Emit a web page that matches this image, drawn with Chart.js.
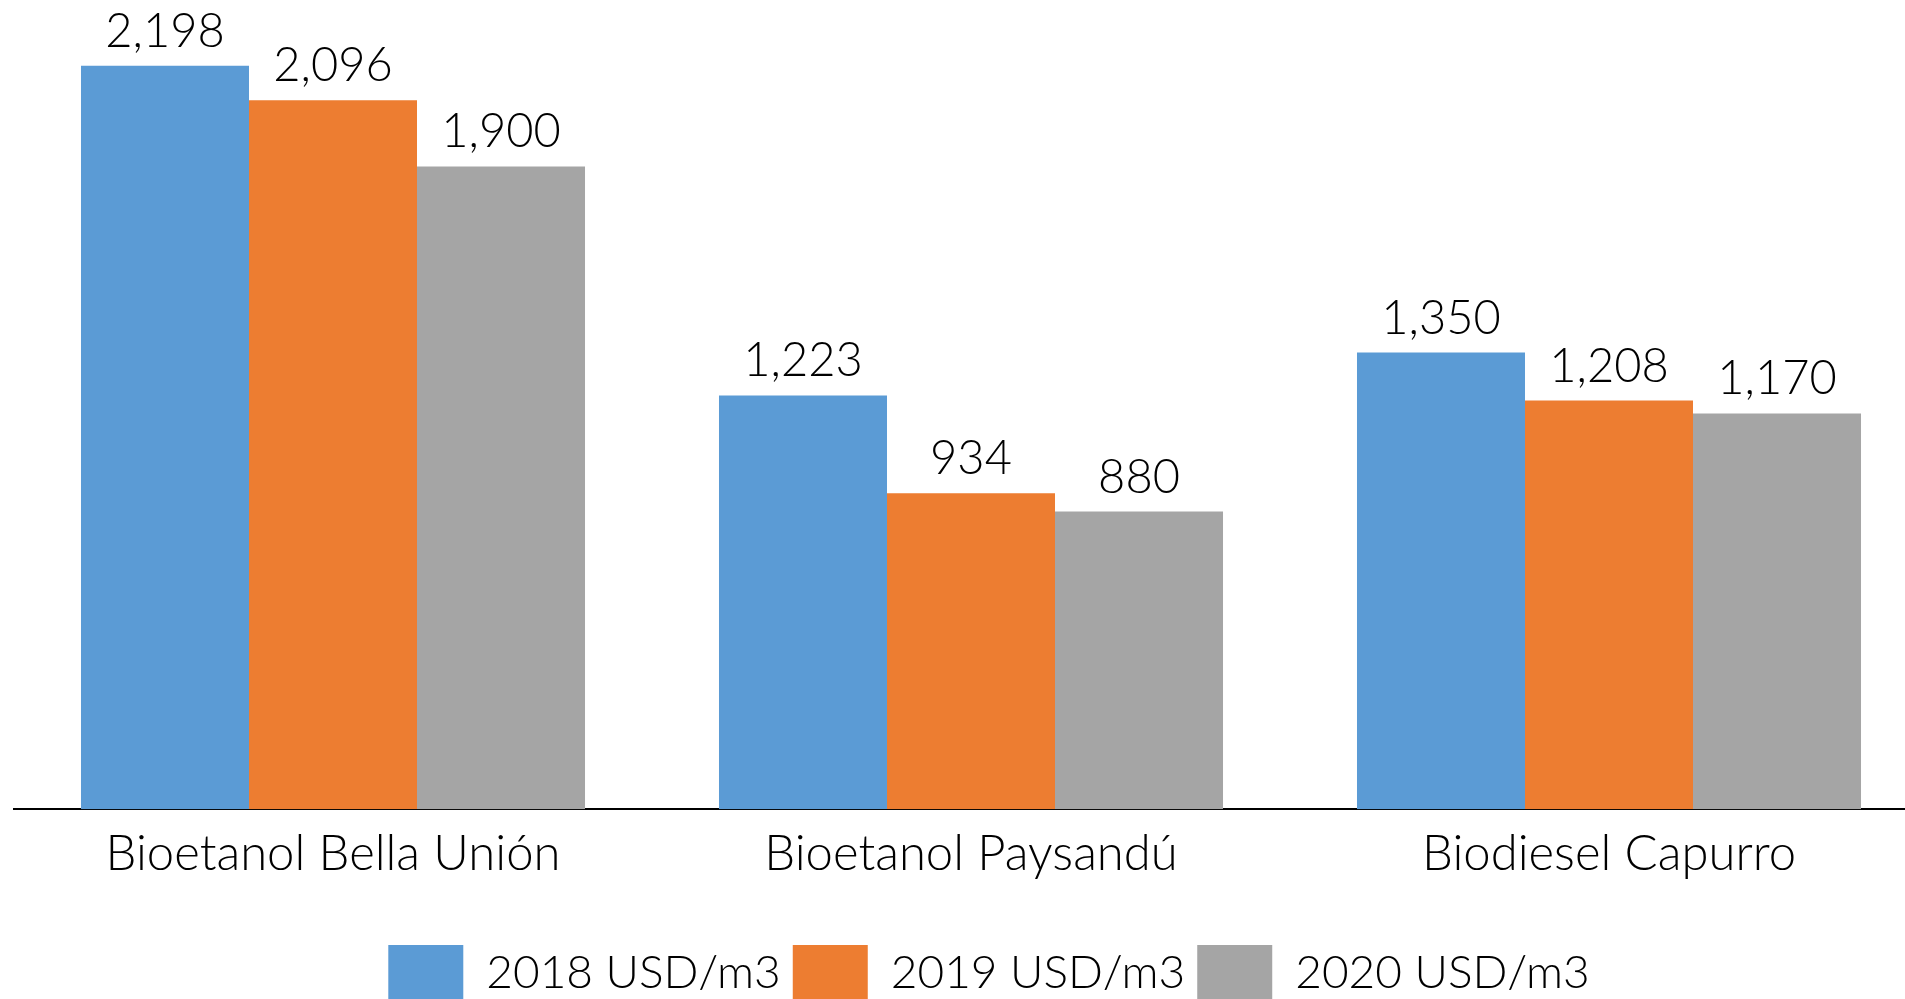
<!DOCTYPE html>
<html>
<head>
<meta charset="utf-8">
<script src="https://cdn.jsdelivr.net/npm/chart.js@4.4.1/dist/chart.umd.min.js"></script>
<style>
  html, body { margin: 0; padding: 0; background: #fff; overflow: hidden; }
  #wrap { position: absolute; left: 0; top: 0; width: 1970px; height: 1011px; }
</style>
</head>
<body>
<div id="wrap"><canvas id="chart"></canvas></div>
<script>
  // Chart data
  const categories = ["Bioetanol Bella Unión", "Bioetanol Paysandú", "Biodiesel Capurro"];
  const seriesNames = ["2018 USD/m3", "2019 USD/m3", "2020 USD/m3"];
  const values2018 = [2198, 1223, 1350];
  const values2019 = [2096, 934, 1208];
  const values2020 = [1900, 880, 1170];
  const colors = ["#5B9BD5", "#ED7D31", "#A5A5A5"];

  const FONT = "Lato";

  // value labels above bars
  const barLabels = {
    id: "barLabels",
    afterLayout(chart) {
      // nudge legend to the right a bit
      chart.legend.left += 18;
      chart.legend.right += 18;
    },
    afterDatasetsDraw(chart) {
      const ctx = chart.ctx;
      ctx.save();
      ctx.font = "300 47px " + FONT;
      ctx.fillStyle = "#000";
      ctx.textAlign = "center";
      ctx.textBaseline = "alphabetic";
      chart.data.datasets.forEach((ds, i) => {
        chart.getDatasetMeta(i).data.forEach((bar, j) => {
          ctx.fillText(ds.data[j].toLocaleString("en-US"), bar.x, bar.y - 19);
        });
      });
      ctx.restore();
    },
  };

  new Chart(document.getElementById("chart"), {
    type: "bar",
    data: {
      labels: categories,
      datasets: [
        { label: seriesNames[0], data: values2018, backgroundColor: colors[0] },
        { label: seriesNames[1], data: values2019, backgroundColor: colors[1] },
        { label: seriesNames[2], data: values2020, backgroundColor: colors[2] },
      ],
    },
    options: {
      responsive: true,
      maintainAspectRatio: false,
      animation: false,
      layout: { padding: { left: 14, right: 42, top: 0, bottom: 0 } },
      datasets: { bar: { categoryPercentage: 0.79, barPercentage: 1.0 } },
      plugins: {
        legend: {
          position: "bottom",
          labels: {
            font: { family: FONT, size: 46, weight: 300 },
            color: "#000",
            boxWidth: 75,
            boxHeight: 56,
            padding: 12,
          },
        },
        tooltip: { enabled: false },
      },
      scales: {
        x: {
          grid: { display: false, drawTicks: false },
          border: { display: true, color: "#000", width: 2 },
          ticks: {
            font: { family: FONT, size: 49, weight: 300 },
            color: "#000",
            padding: 16,
          },
          afterFit(scale) {
            scale.height += 33;
          },
        },
        y: { display: false, min: 0, max: 2392 },
      },
    },
    plugins: [barLabels],
  });
</script>
</body>
</html>
